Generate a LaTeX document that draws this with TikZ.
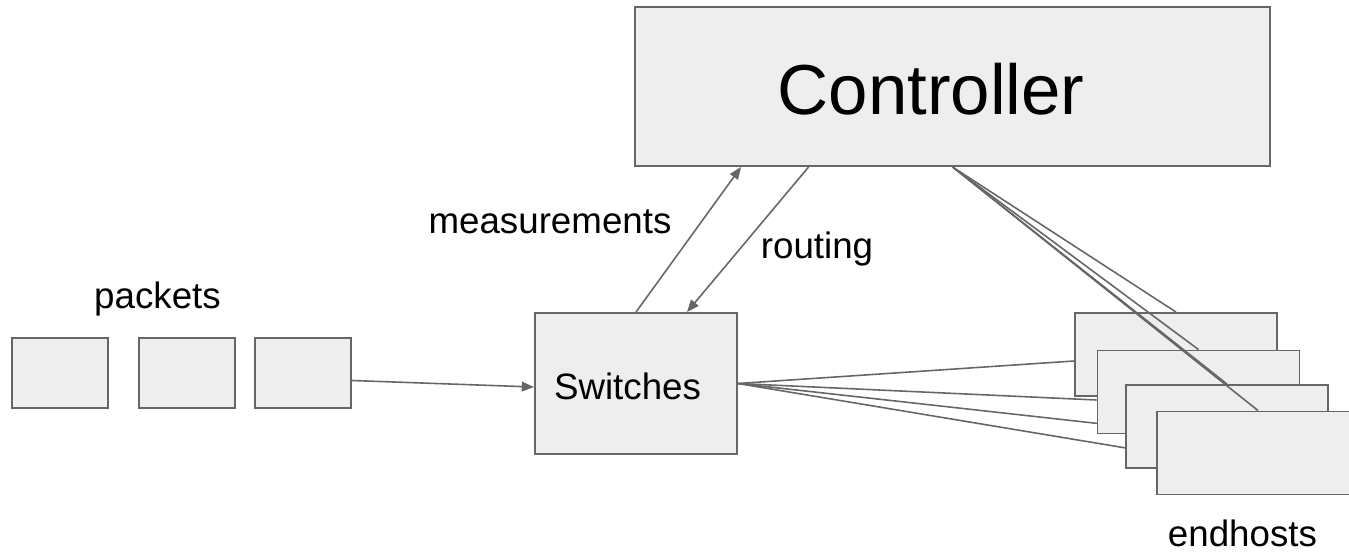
\documentclass[tikz,border=0pt]{standalone}
\usepackage{fontspec}
\setmainfont{Liberation Sans}
\usepackage{xcolor}
\usetikzlibrary{calc,arrows.meta,backgrounds}

\definecolor{boxfill}{HTML}{EEEEEE}
\definecolor{edge}{HTML}{666666}

\tikzset{
  unit/.style={draw=edge, fill=boxfill, line width=1.1pt, inner sep=0pt},
  pkt/.style={unit, minimum width=1.92cm, minimum height=1.40cm},
  host/.style={unit, minimum width=4.04cm, minimum height=1.66cm},
  link/.style={draw=edge, line width=0.9pt},
  flow/.style={link, -{Triangle[length=7pt,width=5.5pt]}},
  lbl/.style={font=\fontsize{20.9}{25}\selectfont, anchor=base, inner sep=0pt}
}

\begin{document}
\begin{tikzpicture}[x=0.02cm,y=-0.02cm]
\useasboundingbox (0,0) rectangle (1349,552);
\node[pkt] (p1) at (60,373) {};
\node[pkt] (p2) at (187,373) {};
\node[pkt] (p3) at (303,373) {};
\node[lbl] (pktlbl) at (157.5,308) {packets};
\node[unit, minimum width=4.04cm, minimum height=2.82cm] (sw) at (636,383.5) {};
\node[lbl] (swlbl) at (627.5,399) {Switches};
\node[unit, minimum width=12.7cm, minimum height=3.18cm] (ctrl) at (952.5,86.5) {};
\node[lbl, font=\fontsize{40.3}{48}\selectfont] (ctrllbl) at (931,114) {Controller};
\node[host] (hA) at (1176,354.5) {};
\node[host] (hB) at (1198.5,392) {};
\node[host] (hC) at (1227,426.5) {};
\node[host] (hD) at (1258,453) {};
\begin{scope}[on background layer]
\draw[link] (sw.east) -- ([yshift=-0.13cm]hA.west);
\draw[link] (sw.east) -- ([yshift=-0.16cm]hB.west);
\draw[link] (sw.east) -- (hC.west);
\draw[link] (sw.east) -- (hD.west);
\end{scope}
\foreach \h in {hA,hB,hC,hD}
  \draw[link] (ctrl.south) -- (\h.north);
\node[lbl] (hostlbl) at (1242.5,546) {endhosts};
\draw[flow] ([yshift=-0.15cm]p3.east) -- ([yshift=-0.07cm]sw.west);
\draw[flow] (sw.north) -- ($(ctrl.south west)!0.168!(ctrl.south east)$);
\draw[flow] ($(ctrl.south west)!0.274!(ctrl.south east)$) -- ($(sw.north west)!0.75!(sw.north east)$);
\node[lbl] (meas) at (550,233) {measurements};
\node[lbl] (rout) at (817,258) {routing};
\end{tikzpicture}
\end{document}
